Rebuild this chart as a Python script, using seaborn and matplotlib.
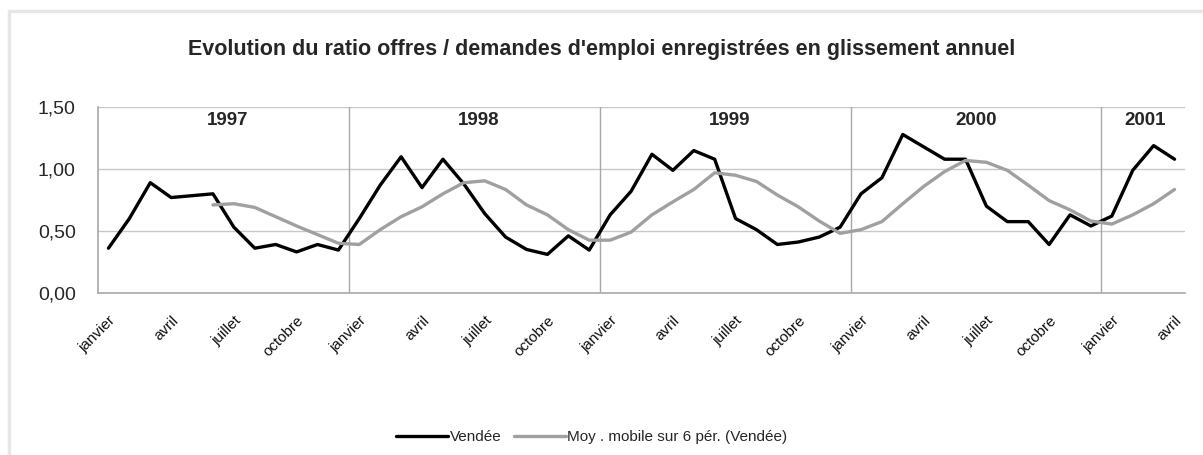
import numpy as np
import pandas as pd
import matplotlib
matplotlib.use('Agg')
import matplotlib.pyplot as plt
import seaborn as sns
from matplotlib.lines import Line2D

# monthly values, janvier 1997 -> avril 2001
mois_noms = ['janvier', 'février', 'mars', 'avril', 'mai', 'juin', 'juillet',
             'août', 'septembre', 'octobre', 'novembre', 'décembre']
annees = ['1997', '1998', '1999', '2000', '2001']

vendee = [0.36, 0.60, 0.89, 0.77, 0.785, 0.80, 0.53, 0.36, 0.39, 0.33, 0.39, 0.345,
          0.60, 0.87, 1.10, 0.85, 1.08, 0.88, 0.64, 0.45, 0.35, 0.31, 0.46, 0.345,
          0.63, 0.82, 1.12, 0.99, 1.15, 1.08, 0.60, 0.51, 0.39, 0.41, 0.45, 0.53,
          0.80, 0.93, 1.28, 1.18, 1.08, 1.08, 0.70, 0.575, 0.575, 0.39, 0.63, 0.54,
          0.62, 0.99, 1.19, 1.08]

moy_mobile = [None, None, None, None, None, 0.71, 0.72, 0.69, 0.615, 0.54, 0.47, 0.40,
              0.39, 0.51, 0.615, 0.695, 0.80, 0.89, 0.905, 0.835, 0.71, 0.63, 0.51, 0.425,
              0.425, 0.49, 0.63, 0.735, 0.835, 0.97, 0.95, 0.90, 0.79, 0.695, 0.58, 0.48,
              0.51, 0.575, 0.72, 0.86, 0.98, 1.07, 1.055, 0.99, 0.87, 0.745, 0.67, 0.58,
              0.555, 0.63, 0.72, 0.835]

n = len(vendee)
df = pd.DataFrame({
    'idx': np.arange(n),
    'Vendée': vendee,
    'Moy . mobile sur 6 pér. (Vendée)': pd.to_numeric(pd.Series(moy_mobile), errors='coerce'),
})
long = df.melt(id_vars='idx', var_name='serie', value_name='ratio')

sns.set_style('white')
plt.rcParams['font.family'] = ['Liberation Sans', 'DejaVu Sans']

fig = plt.figure(figsize=(12.03, 4.55), dpi=100)
ax = fig.add_axes([98 / 1203, 1 - 292.7 / 455, (1185 - 98) / 1203, (292.7 - 107.3) / 455])

sns.lineplot(data=long, x='idx', y='ratio', hue='serie',
             palette={'Vendée': '#000000', 'Moy . mobile sur 6 pér. (Vendée)': '#a0a0a0'},
             linewidth=2.4, ax=ax, legend=False, zorder=3)

ax.set_xlim(-0.5, n - 0.5)
ax.set_ylim(0, 1.5)
ax.set_xlabel('')
ax.set_ylabel('')

# y axis
ax.set_yticks([0, 0.5, 1.0, 1.5])
ax.set_yticklabels(['0,00', '0,50', '1,00', '1,50'], fontsize=14)
for yv in [0.5, 1.0, 1.5]:
    ax.axhline(yv, color='#c8c8c8', lw=1, zorder=1)

# year separators
for k in range(1, len(annees)):
    ax.axvline(12 * k - 0.5, color='#a8a8a8', lw=1, zorder=1)

# month labels every 3 months
pos = list(range(0, n, 3))
ax.set_xticks(pos)
ax.set_xticklabels([mois_noms[p % 12] for p in pos], rotation=45, ha='right',
                   rotation_mode='anchor', fontsize=11, color='#111111')
ax.tick_params(axis='x', length=0, pad=15)
ax.set_xticks(np.arange(5.5, n, 6), minor=True)
ax.tick_params(axis='x', which='minor', direction='in', length=4, color='#999999')
ax.tick_params(axis='y', length=4, color='#999999', direction='out', pad=12)

for s in ['top', 'right']:
    ax.spines[s].set_visible(False)
for s in ['left', 'bottom']:
    ax.spines[s].set_color('#a8a8a8')
    ax.spines[s].set_linewidth(1.2)

# year labels
centres = [5.7, 17.7, 29.7, 41.5, 49.6]
for c, a in zip(centres, annees):
    ax.text(c, 1.39, a, ha='center', va='center', fontsize=13.5, fontweight='bold')

fig.text(0.5, 1 - 49 / 455, "Evolution du ratio offres / demandes d'emploi enregistrées en glissement annuel",
         ha='center', va='center', fontsize=15.5, fontweight='bold')

# legend
handles = [Line2D([], [], color='#000000', lw=2.4), Line2D([], [], color='#a0a0a0', lw=2.4)]
fig.legend(handles, ['Vendée', 'Moy . mobile sur 6 pér. (Vendée)'], loc='center',
           bbox_to_anchor=(0.492, 1 - 437 / 455), ncol=2, frameon=False, fontsize=11,
           handlelength=3.4, handletextpad=0.1, columnspacing=0.8)

# outer frame (top/left visible)
fig.add_artist(Line2D([9 / 1203, 9 / 1203], [0, 1 - 11 / 455], color='#e6e6e6', lw=2.5,
                      transform=fig.transFigure))
fig.add_artist(Line2D([9 / 1203, 1], [1 - 11 / 455, 1 - 11 / 455], color='#e6e6e6', lw=2.5,
                      transform=fig.transFigure))

fig.savefig('out.png', dpi=100, facecolor='white')
